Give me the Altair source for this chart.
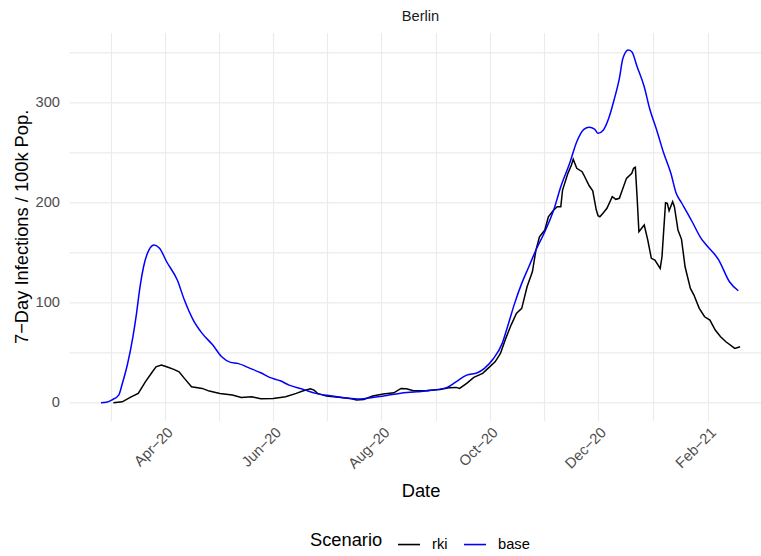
import altair as alt
import pandas as pd

# 7-day incidence per 100k population in Berlin, two scenarios
base_dates = [
    "2020-02-25", "2020-02-28", "2020-03-02", "2020-03-06", "2020-03-08",
    "2020-03-11", "2020-03-14", "2020-03-16", "2020-03-18", "2020-03-20",
    "2020-03-23", "2020-03-26", "2020-03-29", "2020-04-02", "2020-04-08",
    "2020-04-12", "2020-04-17", "2020-04-22", "2020-04-28", "2020-05-03",
    "2020-05-08", "2020-05-12", "2020-05-19", "2020-05-25", "2020-05-30",
    "2020-06-05", "2020-06-10", "2020-06-18", "2020-06-25", "2020-07-03",
    "2020-07-10", "2020-07-20", "2020-07-27", "2020-08-04", "2020-08-11",
    "2020-08-21", "2020-08-30", "2020-09-07", "2020-09-12", "2020-09-18",
    "2020-09-24", "2020-09-28", "2020-10-03", "2020-10-08", "2020-10-11",
    "2020-10-15", "2020-10-19", "2020-10-23", "2020-10-27", "2020-11-01",
    "2020-11-06", "2020-11-10", "2020-11-15", "2020-11-19", "2020-11-23",
    "2020-11-26", "2020-11-29", "2020-12-01", "2020-12-04", "2020-12-07",
    "2020-12-10", "2020-12-13", "2020-12-15", "2020-12-18", "2020-12-20",
    "2020-12-23", "2020-12-27", "2020-12-30", "2021-01-03", "2021-01-07",
    "2021-01-11", "2021-01-14", "2021-01-17", "2021-01-23", "2021-01-28",
    "2021-01-31", "2021-02-07", "2021-02-13", "2021-02-18",
]
base_values = [
    0, 0.5, 2.7, 7.7, 19,
    39, 66, 89, 116, 136,
    152.7, 157.7, 154.4, 141, 122.7,
    102.7, 82.7, 69.4, 57.7, 46,
    40.4, 39.4, 34.4, 30, 25.4,
    22, 17.7, 13.4, 9.4, 7,
    5.4, 3.7, 5.4, 7.4, 9.4,
    11, 12.7, 15.4, 21, 27.7,
    30, 34.4, 44, 59.4, 76,
    99.4, 119.4, 136, 152.7, 171,
    192.7, 216, 239.4, 261, 273.4,
    275.4, 273.7, 269.4, 272.7, 284.4,
    302.7, 324.4, 344.4, 352.7, 351,
    336, 316, 294.4, 272.7, 249.4,
    229.4, 209.4, 200, 181, 164.4,
    157.7, 142.7, 121, 112,
]

rki_dates = [
    "2020-03-03", "2020-03-08", "2020-03-13", "2020-03-17", "2020-03-21",
    "2020-03-25", "2020-03-27", "2020-03-30", "2020-04-02", "2020-04-06",
    "2020-04-09", "2020-04-12", "2020-04-16", "2020-04-22", "2020-04-26",
    "2020-05-02", "2020-05-09", "2020-05-14", "2020-05-20", "2020-05-25",
    "2020-06-01", "2020-06-08", "2020-06-14", "2020-06-18", "2020-06-22",
    "2020-06-24", "2020-06-26", "2020-07-01", "2020-07-09", "2020-07-14",
    "2020-07-18", "2020-07-22", "2020-07-27", "2020-08-02", "2020-08-08",
    "2020-08-12", "2020-08-15", "2020-08-19", "2020-08-26", "2020-09-03",
    "2020-09-08", "2020-09-12", "2020-09-14", "2020-09-18", "2020-09-22",
    "2020-09-27", "2020-09-30", "2020-10-04", "2020-10-07", "2020-10-10",
    "2020-10-13", "2020-10-16", "2020-10-19", "2020-10-22", "2020-10-25",
    "2020-10-27", "2020-10-29", "2020-11-01", "2020-11-03", "2020-11-06",
    "2020-11-08", "2020-11-10", "2020-11-11", "2020-11-14", "2020-11-16",
    "2020-11-17", "2020-11-19", "2020-11-22", "2020-11-23", "2020-11-26",
    "2020-11-28", "2020-11-30", "2020-12-01", "2020-12-02", "2020-12-04",
    "2020-12-06", "2020-12-09", "2020-12-11", "2020-12-13", "2020-12-14",
    "2020-12-17", "2020-12-20", "2020-12-21", "2020-12-22", "2020-12-23",
    "2020-12-24", "2020-12-27", "2020-12-29", "2020-12-31", "2021-01-02",
    "2021-01-05", "2021-01-06", "2021-01-08", "2021-01-09", "2021-01-10",
    "2021-01-12", "2021-01-13", "2021-01-15", "2021-01-17", "2021-01-19",
    "2021-01-22", "2021-01-24", "2021-01-27", "2021-01-30", "2021-02-02",
    "2021-02-05", "2021-02-08", "2021-02-11", "2021-02-16", "2021-02-19",
]
rki_values = [
    0, 1, 6, 9.4, 21,
    31, 36, 37.7, 36, 33.4,
    31, 24.4, 16, 14.4, 11.7,
    9.4, 7.7, 5.4, 6, 4,
    4.4, 6, 9.4, 12, 14,
    12.7, 9.4, 6.7, 5.4, 4.4,
    2.7, 3.4, 6.7, 8.7, 10,
    14.4, 14, 12, 12, 13.4,
    15, 15.4, 14.4, 19.4, 25.4,
    29.4, 34.4, 41, 49.4, 64.4,
    77.7, 89.4, 94.4, 116, 131,
    152.7, 166, 172.7, 186, 192.7,
    196, 196, 212.7, 229.4, 237.7,
    243.4, 234.4, 231, 227.7, 217,
    212, 192.7, 187, 186, 190,
    194.4, 206, 203.4, 204.4, 209.4,
    224.4, 229.4, 234.4, 235.4, 205,
    171, 177.7, 162.7, 144.4, 142.7,
    134.4, 146, 200, 199.4, 192,
    201, 196, 172.7, 163.4, 136,
    114.4, 107.7, 94.4, 86, 82.7,
    72.7, 66, 61, 54.4, 56,
]

scenarios = ["rki", "base"]
scenario_colors = ["#000000", "#0000FF"]

y_ticks = [0, 50, 100, 150, 200, 250, 300, 350]

# month gridlines: labelled every second month, unlabelled midpoints in between
x_grid = [
    alt.DateTime(year=2020, month=3, date=1, hours=12, utc=True),
    alt.DateTime(year=2020, month=4, date=1, utc=True),
    alt.DateTime(year=2020, month=5, date=1, hours=12, utc=True),
    alt.DateTime(year=2020, month=6, date=1, utc=True),
    alt.DateTime(year=2020, month=7, date=1, hours=12, utc=True),
    alt.DateTime(year=2020, month=8, date=1, utc=True),
    alt.DateTime(year=2020, month=8, date=31, hours=12, utc=True),
    alt.DateTime(year=2020, month=10, date=1, utc=True),
    alt.DateTime(year=2020, month=10, date=31, hours=12, utc=True),
    alt.DateTime(year=2020, month=12, date=1, utc=True),
    alt.DateTime(year=2021, month=1, date=1, utc=True),
    alt.DateTime(year=2021, month=2, date=1, utc=True),
]

df = pd.concat([
    pd.DataFrame({"Date": rki_dates, "value": rki_values, "Scenario": "rki"}),
    pd.DataFrame({"Date": base_dates, "value": base_values, "Scenario": "base"}),
], ignore_index=True)

FONT = "Liberation Sans"
GRID = "#EBEBEB"
W, H = 692, 388

x_enc = alt.X(
    "Date:T",
    title="Date",
    scale=alt.Scale(
        type="utc",
        domain=[
            alt.DateTime(year=2020, month=2, date=7, utc=True),
            alt.DateTime(year=2021, month=3, date=2, hours=18, minutes=30, utc=True),
        ],
        nice=False,
    ),
    axis=alt.Axis(
        values=x_grid,
        labelExpr=(
            "(utcdate(datum.value) == 1 && utcmonth(datum.value) % 2 == 1) ? "
            "utcFormat(datum.value, '%b') + '\u2212' + utcFormat(datum.value, '%y') : ''"
        ),
        labelAngle=-45,
        labelAlign="right",
        labelBaseline="top",
        labelPadding=4,
        labelFontSize=14.7,
        labelColor="#4D4D4D",
        labelFont=FONT,
        labelOverlap=False,
        ticks=False,
        domain=False,
        grid=True,
        gridColor=GRID,
        gridWidth=1.1,
        title="Date",
        titleFont=FONT,
        titleFontSize=18.3,
        titleFontWeight="normal",
        titleColor="#000000",
        titleX=351.5,
        titleY=76,
        titleAlign="center",
        titleBaseline="alphabetic",
    ),
)

y_enc = alt.Y(
    "value:Q",
    scale=alt.Scale(domain=[-17.6, 370.3], nice=False, zero=False),
    axis=alt.Axis(
        values=y_ticks,
        format="d",
        labelExpr="datum.value % 100 == 0 ? datum.label : ''",
        labelPadding=9.5,
        labelFontSize=14.7,
        labelColor="#4D4D4D",
        labelFont=FONT,
        labelBaseline="middle",
        ticks=False,
        domain=False,
        grid=True,
        gridColor=GRID,
        gridWidth=1.1,
        title="7\u2212Day Infections / 100k Pop.",
        titleFont=FONT,
        titleFontSize=18.3,
        titleFontWeight="normal",
        titleColor="#000000",
        titleX=-42,
        titleY=H / 2,
        titleAlign="center",
        titleBaseline="alphabetic",
    ),
)

legend = alt.Legend(
    orient="none",
    legendX=241,
    legendY=500,
    direction="horizontal",
    title="Scenario",
    titleOrient="left",
    titleAnchor="middle",
    titleBaseline="middle",
    titleFont=FONT,
    titleFontSize=18.3,
    titleFontWeight="normal",
    titleColor="#000000",
    titlePadding=14,
    labelFont=FONT,
    labelFontSize=14.7,
    labelColor="#000000",
    labelOffset=11,
    columnPadding=12,
    symbolType="stroke",
    symbolSize=484,
    symbolStrokeWidth=1.6,
)

color_enc = alt.Color(
    "Scenario:N",
    scale=alt.Scale(domain=scenarios, range=scenario_colors),
    legend=legend,
)

rki_line = alt.Chart(df).transform_filter(
    alt.datum.Scenario == "rki"
).mark_line(strokeWidth=1.5).encode(x=x_enc, y=y_enc, color=color_enc)

base_line = alt.Chart(df).transform_filter(
    alt.datum.Scenario == "base"
).mark_line(strokeWidth=1.5, interpolate="monotone").encode(x=x_enc, y=y_enc, color=color_enc)

chart = alt.layer(rki_line, base_line).properties(
    width=W,
    height=H,
    autosize=alt.AutoSizeParams(type="none"),
    padding={"left": 69, "top": 32.4, "right": 0, "bottom": 135.6},
    title=alt.TitleParams(
        "Berlin",
        font=FONT,
        fontSize=14.7,
        fontWeight="normal",
        color="#1A1A1A",
        anchor="middle",
        frame="group",
        dx=5.5,
        offset=-3,
        baseline="alphabetic",
    ),
).configure(
    font=FONT,
    background="white",
).configure_view(strokeWidth=0)

chart.save("out.html", embed_options={"renderer": "svg", "actions": False})
